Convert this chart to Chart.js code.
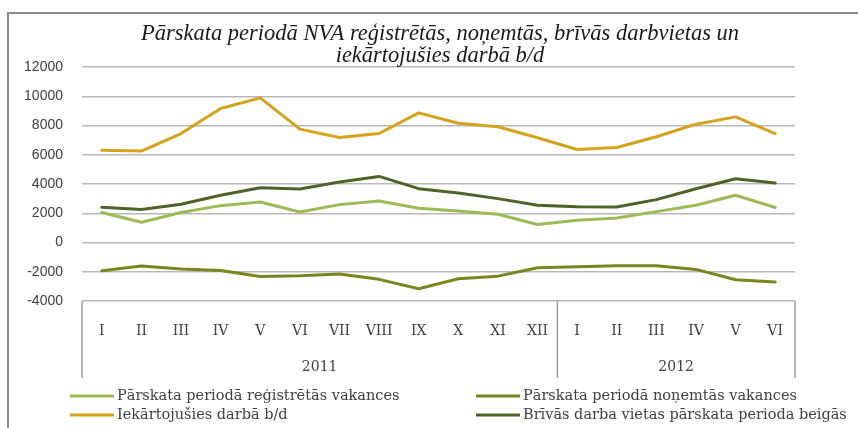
<!DOCTYPE html>
<html>
<head>
<meta charset="utf-8">
<script src="https://cdn.jsdelivr.net/npm/chart.js@4/dist/chart.umd.min.js"></script>
<style>
  html, body { margin: 0; padding: 0; background: #fff; }
  #wrap { width: 858px; height: 428px; position: relative; }
</style>
</head>
<body>
<div id="wrap"><canvas id="chart" width="858" height="428"></canvas></div>
<script>
const months = ['I', 'II', 'III', 'IV', 'V', 'VI', 'VII', 'VIII', 'IX', 'X', 'XI', 'XII', 'I', 'II', 'III', 'IV', 'V', 'VI'];
const years = ['2011', '2012'];
const yearSpans = [12, 6];
const titleLines = ['Pārskata periodā NVA reģistrētās, noņemtās, brīvās darbvietas un', 'iekārtojušies darbā b/d'];

const seriesNames = [
  'Pārskata periodā reģistrētās vakances',
  'Pārskata periodā noņemtās vakances',
  'Iekārtojušies darbā b/d',
  'Brīvās darba vietas pārskata perioda beigās'
];
const registered = [2050, 1390, 2050, 2520, 2770, 2090, 2590, 2840, 2340, 2160, 1930, 1230, 1520, 1680, 2110, 2550, 3230, 2390];
const removed = [-1930, -1610, -1820, -1910, -2320, -2270, -2160, -2520, -3160, -2480, -2300, -1730, -1660, -1590, -1590, -1840, -2550, -2700];
const employed = [6300, 6250, 7450, 9160, 9890, 7750, 7180, 7450, 8860, 8150, 7910, 7160, 6360, 6500, 7230, 8090, 8590, 7450];
const vacant = [2410, 2250, 2610, 3230, 3750, 3660, 4140, 4520, 3680, 3390, 3000, 2545, 2450, 2430, 2930, 3680, 4360, 4070];

const yMin = -4000, yMax = 12000, yStep = 2000;
const colors = ['#9bbb59', '#7a8520', '#d4a21c', '#4f6228'];

// frame, title, year row, separators and legend
const extras = {
  id: 'extras',
  beforeDraw(chart) {
    const c = chart.ctx;
    c.save();
    c.fillStyle = '#fff';
    c.fillRect(0, 0, chart.width, chart.height);
    c.strokeStyle = '#8a8a8a';
    c.lineWidth = 2;
    c.beginPath();
    c.moveTo(8, 428);
    c.lineTo(8, 13);
    c.lineTo(858, 13);
    c.stroke();
    c.restore();
  },
  afterDraw(chart) {
    const c = chart.ctx;
    const x = chart.scales.x;
    const area = chart.chartArea;
    c.save();

    // title
    c.fillStyle = '#1a1a1a';
    c.font = 'italic 22.5px "Liberation Serif"';
    c.textAlign = 'center';
    c.textBaseline = 'middle';
    c.fillText(titleLines[0], 440, 34);
    c.fillText(titleLines[1], 440, 56);

    // category boxes
    const half = (x.getPixelForTick(1) - x.getPixelForTick(0)) / 2;
    c.strokeStyle = '#a0a0a0';
    c.lineWidth = 1.5;
    let start = 0;
    const edges = [x.getPixelForTick(0) - half];
    yearSpans.forEach(n => {
      start += n;
      edges.push(x.getPixelForTick(start - 1) + half);
    });
    c.beginPath();
    edges.forEach(px => {
      c.moveTo(px, area.bottom);
      c.lineTo(px, 378);
    });
    c.stroke();

    c.fillStyle = '#404040';
    c.font = '14px "DejaVu Serif"';
    years.forEach((y, i) => {
      c.fillText(y, (edges[i] + edges[i + 1]) / 2, 367);
    });

    // legend
    const slots = [[70, 396], [476, 396], [70, 415], [476, 415]];
    c.textAlign = 'left';
    c.font = '14.5px "DejaVu Serif"';
    chart.data.datasets.forEach((ds, i) => {
      const [lx, ly] = slots[i];
      c.strokeStyle = ds.borderColor;
      c.lineWidth = 3;
      c.beginPath();
      c.moveTo(lx, ly);
      c.lineTo(lx + 44, ly);
      c.stroke();
      c.fillStyle = '#404040';
      c.fillText(ds.label, lx + 47, ly);
    });
    c.restore();
  }
};

const datasets = [registered, removed, employed, vacant].map((vals, i) => ({
  label: seriesNames[i],
  data: vals,
  borderColor: colors[i],
  backgroundColor: colors[i],
  borderWidth: 3,
  pointRadius: 0,
  tension: 0,
  fill: false,
  borderJoinStyle: 'round',
  borderCapStyle: 'round'
}));

new Chart(document.getElementById('chart'), {
  type: 'line',
  data: { labels: months, datasets },
  plugins: [extras],
  options: {
    responsive: false,
    animation: false,
    layout: { padding: { left: 8, right: 63, top: 67, bottom: 0 } },
    plugins: {
      legend: { display: false },
      title: { display: false },
      tooltip: { enabled: false }
    },
    scales: {
      x: {
        offset: true,
        grid: { display: false },
        border: { display: false },
        ticks: {
          color: '#404040',
          font: { family: 'DejaVu Serif', size: 14 },
          padding: 14,
          maxRotation: 0,
          autoSkip: false
        },
        afterFit(scale) { scale.height = 127; }
      },
      y: {
        min: yMin,
        max: yMax,
        grid: { color: '#b8b8b8', lineWidth: 1.5, drawTicks: false },
        border: { display: false },
        ticks: {
          stepSize: yStep,
          color: '#404040',
          font: { family: 'Liberation Sans', size: 14 },
          padding: 19,
          callback: v => String(v)
        },
        afterFit(scale) { scale.width = 74; }
      }
    }
  }
});
</script>
</body>
</html>
